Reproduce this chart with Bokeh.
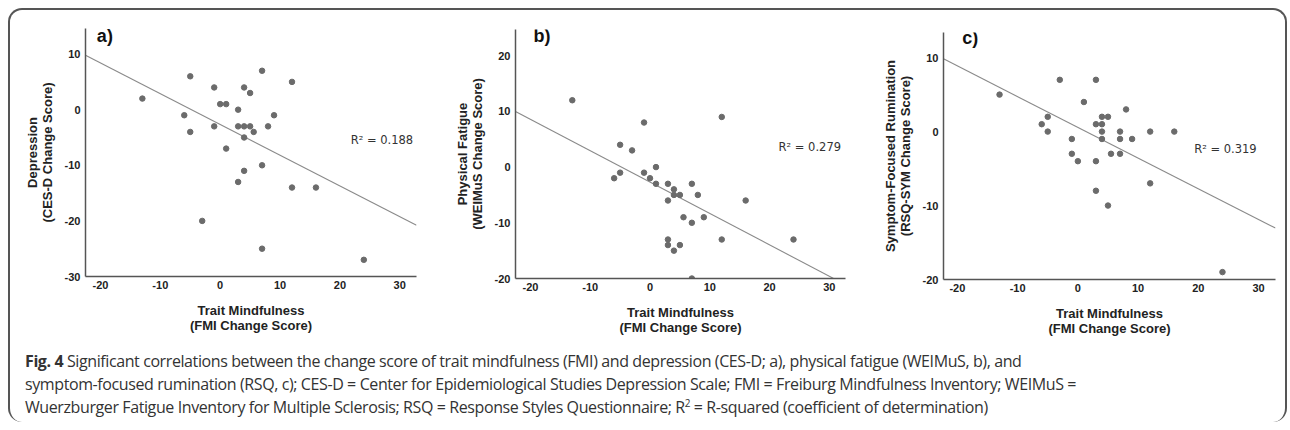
import numpy as np
from bokeh.plotting import figure
from bokeh.models import Range1d, FixedTicker, Div, Label
from bokeh.layouts import row, column
from bokeh.embed import file_html
from bokeh.resources import INLINE

# ---------------- data ----------------
fmi_a = [-13, -5, -6, -5, -3, -1, -1, 0, 1, 1, 3, 3, 3, 4, 4, 4, 4, 5, 5, 5.6, 7, 7, 7, 8, 9, 12, 12, 16, 24]
dep_a = [2, 6, -1, -4, -20, 4, -3, 1, 1, -7, 0, -3, -13, 4, -3, -5, -11, 3, -3, -4, 7, -10, -25, -3, -1, 5, -14, -14, -27]

fmi_b = [-13, -1, 12, -5, -3, 1, -6, -5, -1, 0, 1, 3, 3, 4, 4, 5, 7, 8, 16, 5.6, 9, 7, 3, 3, 4, 5, 12, 24, 7]
fat_b = [12, 8, 9, 4, 3, 0, -2, -1, -1, -2, -3, -3, -6, -4, -5, -5, -3, -5, -6, -9, -9, -10, -13, -14, -15, -14, -13, -13, -20]

fmi_c = [-13, -3, 3, 1, 8, -5, 4, 5, -6, 3, 4, -5, 4, 7, 12, 16, -1, 4, 7, 9, -1, 0, 3, 5.5, 7, 12, 3, 5, 24]
rum_c = [5, 7, 7, 4, 3, 2, 2, 2, 1, 1, 1, 0, 0, 0, 0, 0, -1, -1, -1, -1, -3, -4, -4, -3, -3, -7, -8, -10, -19]

x_ticks = [-20, -10, 0, 10, 20, 30]
y_ticks_a = [-30, -20, -10, 0, 10]
y_ticks_b = [-20, -10, 0, 10, 20]
y_ticks_c = [-20, -10, 0, 10]

panel_tags = ["a)", "b)", "c)"]
r2_texts = ["R\u00b2 = 0.188", "R\u00b2 = 0.279", "R\u00b2 = 0.319"]
x_title = "Trait Mindfulness\n(FMI Change Score)"
y_titles = ["Depression\n(CES-D Change Score)",
            "Physical Fatigue\n(WEIMuS Change Score)",
            "Symptom-Focused Rumination\n(RSQ-SYM Change Score)"]

AX_FONT = "Liberation Sans"
PT_COLOR = "#6b6b6b"
LINE_COLOR = "#8a8a8a"
AX_COLOR = "#555555"
FIG_H = 336


def panel(xs, ys, xr, yr, yticks, ytitle, tag, tag_pos, r2, r2_pos,
          width, bl, br, bt, bb):
    p = figure(width=width, height=FIG_H, x_range=Range1d(*xr), y_range=Range1d(*yr),
               output_backend="svg", toolbar_location=None, title=None,
               min_border_left=bl, min_border_right=br,
               min_border_top=bt, min_border_bottom=bb)
    p.outline_line_color = None
    p.grid.grid_line_color = None
    p.background_fill_color = None
    p.border_fill_color = None
    for ax, ticks in ((p.xaxis[0], x_ticks), (p.yaxis[0], yticks)):
        ax.ticker = FixedTicker(ticks=ticks)
        ax.major_label_overrides = {t: str(t) for t in ticks}
        ax.major_tick_in = 0
        ax.major_tick_out = 0
        ax.minor_tick_line_color = None
        ax.axis_line_color = AX_COLOR
        ax.axis_line_width = 1.5
        ax.major_label_text_font = AX_FONT
        ax.major_label_text_font_style = "bold"
        ax.major_label_text_font_size = "11px"
        ax.major_label_text_color = "#222222"
        ax.axis_label_text_font = AX_FONT
        ax.axis_label_text_font_style = "bold"
        ax.axis_label_text_font_size = "13px"
        ax.axis_label_text_line_height = 1.0
        ax.axis_label_text_color = "#222222"
    p.xaxis.axis_label = x_title
    p.yaxis.axis_label = ytitle
    p.xaxis.major_label_standoff = 4
    p.yaxis.major_label_standoff = 5
    p.xaxis.axis_label_standoff = 11
    p.yaxis.axis_label_standoff = 7

    # regression line fitted to the data
    k, b = np.polyfit(np.array(xs, float), np.array(ys, float), 1)
    lx = np.array([xr[0], xr[1]])
    p.line(lx, k * lx + b, line_color=LINE_COLOR, line_width=1.1)
    p.scatter(xs, ys, size=5.5, fill_color=PT_COLOR, line_color=PT_COLOR)

    p.add_layout(Label(x=tag_pos[0], y=tag_pos[1], text=tag, text_font=AX_FONT,
                       text_font_style="bold", text_font_size="18px",
                       text_color="#111111", text_baseline="middle"))
    p.add_layout(Label(x=r2_pos[0], y=r2_pos[1], text=r2, text_font="DejaVu Sans",
                       text_font_size="11.5px", text_color="#333333",
                       text_baseline="middle", text_align="left"))
    return p


pa = panel(fmi_a, dep_a, (-22.5, 32.8), (-30, 14.6), y_ticks_a, y_titles[0],
           panel_tags[0], (-20.6, 13.3), r2_texts[0], (21.8, -5.5),
           420, 75, 14, 18, 70)
pb = panel(fmi_b, fat_b, (-22.5, 32.7), (-20, 24.7), y_ticks_b, y_titles[1],
           panel_tags[1], (-19.5, 23.6), r2_texts[1], (21.5, 3.6),
           420, 85, 5, 19, 68)
pc = panel(fmi_c, rum_c, (-22.3, 32.8), (-20, 13.4), y_ticks_c, y_titles[2],
           panel_tags[2], (-19.2, 12.6), r2_texts[2], (19.3, -2.3),
           435, 93, 10, 22, 67)

caption_html = (
    "<b>Fig. 4</b> Significant correlations between the change score of trait mindfulness (FMI) "
    "and depression (CES-D; a), physical fatigue (WEIMuS, b), and<br>"
    "symptom-focused rumination (RSQ, c); CES-D = Center for Epidemiological Studies Depression Scale; "
    "FMI = Freiburg Mindfulness Inventory; WEIMuS =<br>"
    "Wuerzburger Fatigue Inventory for Multiple Sclerosis; RSQ = Response Styles Questionnaire; "
    "R<sup style='font-size:10px;line-height:0;'>2</sup> = R-squared (coefficient of determination)"
)
cap = Div(text=caption_html, width=1255, height=72, margin=(4, 0, 0, 15),
          styles={"font-family": "'Open Sans', sans-serif",
                  "font-size": "16px", "line-height": "23px", "color": "#333333",
                  "letter-spacing": "-0.4px", "white-space": "nowrap"})

layout = column(row(column(pa), column(pb), column(pc)), cap, margin=(8, 0, 0, 8),
                styles={"border": "2px solid #555555", "border-radius": "14px",
                        "border-bottom": "none"})

open("out.html", "w").write(file_html(layout, INLINE))
